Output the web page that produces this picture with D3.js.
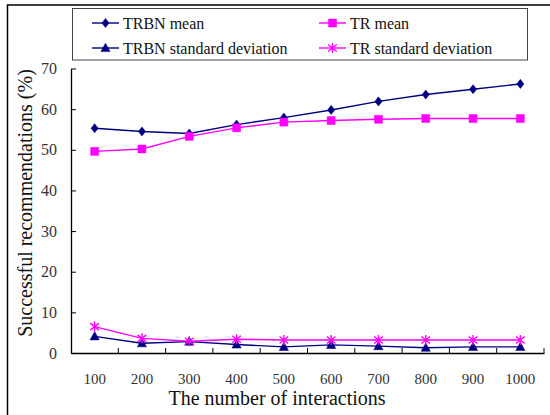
<!DOCTYPE html>
<html>
<head>
<meta charset="utf-8">
<script src="https://cdn.jsdelivr.net/npm/d3@7"></script>
<style>
  body { margin: 0; background: #fff; }
  svg { display: block; }
</style>
</head>
<body>
<script>
var interactions = ['100', '200', '300', '400', '500', '600', '700', '800', '900', '1000'],
    trbnMean = [55.3, 54.5, 54.0, 56.2, 57.9, 59.8, 61.9, 63.6, 64.9, 66.2],
    trMean = [49.6, 50.2, 53.3, 55.4, 56.8, 57.2, 57.5, 57.7, 57.7, 57.7],
    trbnStd = [4.1, 2.4, 2.8, 2.1, 1.5, 2.0, 1.7, 1.3, 1.5, 1.5],
    trStd = [6.5, 3.6, 2.9, 3.4, 3.2, 3.2, 3.2, 3.2, 3.2, 3.2],
    yTicks = [0, 10, 20, 30, 40, 50, 60, 70];

var navy = '#000080', magenta = '#ff00ff';

var series = [
    { name: 'TRBN mean', values: trbnMean, color: navy, marker: 'diamond' },
    { name: 'TR mean', values: trMean, color: magenta, marker: 'square' },
    { name: 'TRBN standard deviation', values: trbnStd, color: navy, marker: 'triangle' },
    { name: 'TR standard deviation', values: trStd, color: magenta, marker: 'star' }
];

var svgwidth = 550, svgheight = 415,
    margin = { top: 68.5, left: 71, right: 6, bottom: 62 }, // plot area 71..544, 68.5..353
    width = svgwidth - margin.left - margin.right,
    height = svgheight - margin.top - margin.bottom;

var serif = "'Liberation Serif'";

var svg = d3.select('body').append('svg')
    .attr('width', svgwidth)
    .attr('height', svgheight);

// outer frame (runs off the right and bottom)
svg.append('rect')
    .attr('x', 7.5).attr('y', 5)
    .attr('width', 700).attr('height', 600)
    .attr('fill', 'none')
    .attr('stroke', '#000')
    .attr('stroke-width', 1.5);

var x = d3.scaleBand().domain(interactions).range([0, width]);
var y = d3.scaleLinear().domain([0, 70]).range([height, 0]);

var g = svg.append('g')
    .attr('transform', 'translate(' + margin.left + ',' + margin.top + ')');

// y axis, ticks point inward
var yaxis = g.append('g')
    .call(d3.axisLeft(y).tickValues(yTicks).tickSizeInner(-5).tickSizeOuter(0).tickPadding(14));
yaxis.selectAll('text').style('font-family', serif).style('font-size', '16px').attr('fill', '#333');

// x axis labels at band centres
var xaxis = g.append('g')
    .attr('transform', 'translate(0,' + height + ')')
    .call(d3.axisBottom(x).tickSize(0).tickPadding(20));
xaxis.selectAll('text').style('font-family', serif).style('font-size', '15px').attr('fill', '#333');

// x tick marks at band boundaries, pointing up
g.append('g').selectAll('line')
    .data(interactions)
    .enter().append('line')
    .attr('x1', function (d) { return x(d) + x.bandwidth(); })
    .attr('x2', function (d) { return x(d) + x.bandwidth(); })
    .attr('y1', height)
    .attr('y2', height - 5)
    .attr('stroke', '#000');

svg.selectAll('.domain').attr('stroke', '#000').attr('stroke-width', 1.3);
svg.selectAll('.tick line').attr('stroke', '#000');

// marker shapes
function markerPath(type) {
    if (type === 'diamond') return 'M0,-4.6L3.6,0L0,4.6L-3.6,0Z';
    if (type === 'square') return 'M-4,-4H4V4H-4Z';
    if (type === 'triangle') return 'M0,-4.8L4.6,3.6H-4.6Z';
    return 'M0,-5V5M-4.3,-3.5L4.3,3.5M-4.3,3.5L4.3,-3.5';
}

function drawMarker(sel, s) {
    var p = sel.append('path').attr('d', markerPath(s.marker));
    if (s.marker === 'star') {
        p.attr('fill', 'none').attr('stroke', s.color).attr('stroke-width', 1.4);
    } else {
        p.attr('fill', s.color).attr('stroke', s.color).attr('stroke-width', 0.5);
    }
}

var line = d3.line()
    .x(function (d, i) { return x(interactions[i]) + x.bandwidth() / 2; })
    .y(function (d) { return y(d); });

series.forEach(function (s) {
    g.append('path')
        .datum(s.values)
        .attr('d', line)
        .attr('fill', 'none')
        .attr('stroke', s.color)
        .attr('stroke-width', 1.4);
    s.values.forEach(function (v, i) {
        var m = g.append('g')
            .attr('transform', 'translate(' + (x(interactions[i]) + x.bandwidth() / 2) + ',' + y(v) + ')');
        drawMarker(m, s);
    });
});

// axis titles
svg.append('text')
    .attr('x', 277).attr('y', 405)
    .attr('text-anchor', 'middle')
    .style('font-family', serif)
    .style('font-size', '20px')
    .attr('fill', '#111')
    .text('The number of interactions');

svg.append('text')
    .attr('transform', 'translate(25,203) rotate(-90)')
    .attr('text-anchor', 'middle')
    .attr('dominant-baseline', 'central')
    .style('font-family', serif)
    .style('font-size', '20px')
    .attr('fill', '#111')
    .text('Successful recommendations (%)');

// legend
svg.append('rect')
    .attr('x', 72.5).attr('y', 8.5)
    .attr('width', 455).attr('height', 51.5)
    .attr('fill', '#fff')
    .attr('stroke', '#444')
    .attr('stroke-width', 1);

var legendPos = [[92, 23], [319, 23], [92, 48], [319, 48]];
series.forEach(function (s, i) {
    var lg = svg.append('g')
        .attr('transform', 'translate(' + legendPos[i][0] + ',' + legendPos[i][1] + ')');
    lg.append('line')
        .attr('x1', 0).attr('x2', 27)
        .attr('stroke', s.color)
        .attr('stroke-width', 1.4);
    drawMarker(lg.append('g').attr('transform', 'translate(13.5,0)'), s);
    lg.append('text')
        .attr('x', 31).attr('y', 5.5)
        .style('font-family', serif)
        .style('font-size', '16px')
        .attr('fill', '#111')
        .text(s.name);
});
</script>
</body>
</html>
